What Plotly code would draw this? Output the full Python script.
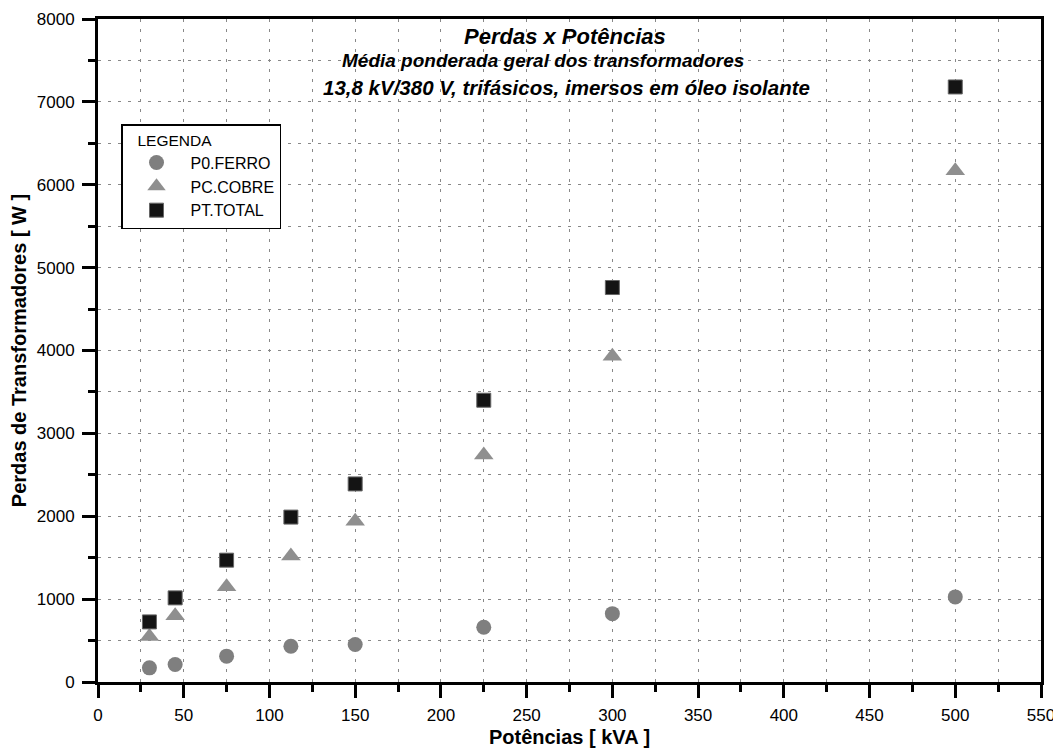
import plotly.graph_objects as go

potencias = [30, 45, 75, 112.5, 150, 225, 300, 500]
p0_ferro = [171, 212, 312, 432, 452, 660, 825, 1027]
pc_cobre = [550, 800, 1150, 1520, 1940, 2740, 3930, 6170]
pt_total = [725, 1015, 1470, 1990, 2390, 3400, 4760, 7180]

FONT = "Liberation Sans"
GRID = "#888888"
DASH = "3px,7px"

fig = go.Figure()
fig.add_trace(go.Scatter(x=potencias, y=p0_ferro, mode="markers", name="P0.FERRO",
                         marker=dict(symbol="circle", size=15, color="#7f7f7f",
                                     line=dict(width=0))))
fig.add_trace(go.Scatter(x=potencias, y=pc_cobre, mode="markers", name="PC.COBRE",
                         marker=dict(symbol="triangle-up", size=17, color="#8f8f8f",
                                     line=dict(width=0))))
fig.add_trace(go.Scatter(x=potencias, y=pt_total, mode="markers", name="PT.TOTAL",
                         marker=dict(symbol="square", size=14, color="#141414",
                                     line=dict(width=1, color="#666666"))))

axis_common = dict(
    showline=True, linecolor="black", linewidth=3, mirror=True,
    ticks="outside", ticklen=13, tickwidth=3, tickcolor="black",
    showgrid=True, gridcolor=GRID, gridwidth=1, griddash=DASH,
    zeroline=False, automargin=False, ticklabeloverflow="allow",
    tickfont=dict(family=FONT, size=17, color="black"),
)

fig.update_xaxes(range=[0, 550], dtick=50, tick0=0, ticklabelstandoff=3,
                 minor=dict(dtick=25, ticks="outside", ticklen=7, tickwidth=3,
                            tickcolor="black", showgrid=True, gridcolor=GRID,
                            griddash=DASH, gridwidth=1),
                 title=dict(text="<b>Potências [ kVA ]</b>",
                            font=dict(family=FONT, size=20, color="black"), standoff=6),
                 **axis_common)
fig.update_yaxes(range=[0, 8000], dtick=1000, tick0=0, ticklabelstandoff=4,
                 minor=dict(dtick=500, ticks="outside", ticklen=7, tickwidth=3,
                            tickcolor="black", showgrid=True, gridcolor=GRID,
                            griddash=DASH, gridwidth=1),
                 title=dict(text="<b>Perdas de Transformadores [ W ]</b>",
                            font=dict(family=FONT, size=20, color="black"), standoff=8),
                 **axis_common)

fig.add_annotation(text="<b><i>Perdas x Potências</i></b>", xref="paper", yref="paper",
                   x=0.495, y=0.973, yanchor="middle", showarrow=False,
                   font=dict(family=FONT, size=22, color="black"))
fig.add_annotation(text="<b><i>Média ponderada geral dos transformadores</i></b>",
                   xref="paper", yref="paper", x=0.472, y=0.9367, yanchor="middle",
                   showarrow=False, font=dict(family=FONT, size=19, color="black"))
fig.add_annotation(text="<b><i>13,8 kV/380 V, trifásicos, imersos em óleo isolante</i></b>",
                   xref="paper", yref="paper", x=0.497, y=0.896, yanchor="middle",
                   showarrow=False, font=dict(family=FONT, size=20.5, color="black"))

fig.update_layout(
    width=1053, height=744,
    margin=dict(l=90, r=20, t=11, b=70),
    paper_bgcolor="white", plot_bgcolor="white",
    font=dict(family=FONT, size=16, color="black"),
    showlegend=True,
    legend=dict(x=0.0244, y=0.8416, xanchor="left", yanchor="top",
                bgcolor="white", bordercolor="black", borderwidth=1.5,
                title=dict(text="\u00a0\u00a0\u00a0LEGENDA", font=dict(family=FONT, size=15.5)),
                font=dict(family=FONT, size=16, color="black"),
                itemwidth=58, tracegroupgap=0),
)

fig.write_html("out.html")
